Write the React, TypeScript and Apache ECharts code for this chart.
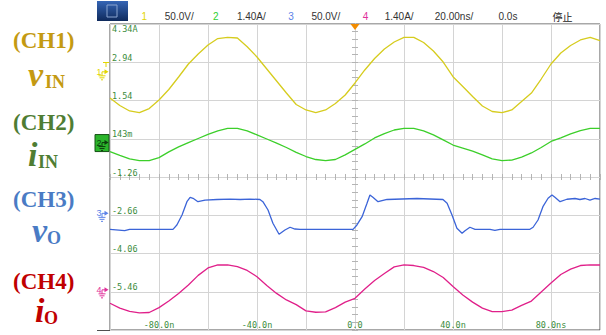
import React, { useEffect, useRef } from "react";
import * as echarts from "echarts";

// Sample times (ns) for the sinusoidal channels
const TIME_NS = [
  -100, -96, -92, -88, -84, -80, -76, -72, -68, -64, -60, -56, -52, -48, -44, -40, -36,
  -32, -28, -24, -20, -16, -12, -8, -4, 0, 4, 8, 12, 16, 20, 24, 28, 32, 36, 40, 44, 48,
  52, 56, 60, 64, 68, 72, 76, 80, 84, 88, 92, 96, 100,
];

// CH1 v_IN (V)
const CH1_V = [
  -34.2, -44.0, -51.2, -53.3, -48.0, -36.9, -23.1, -6.8, 10.2, 23.3, 35.0, 43.5, 45.1,
  44.2, 32.8, 19.4, 3.7, -12.0, -27.7, -42.7, -49.9, -53.3, -49.9, -41.4, -30.3, -14.6,
  2.4, 17.4, 29.8, 39.0, 45.1, 45.1, 38.3, 27.2, 12.8, -6.4, -19.2, -32.3, -44.7, -51.9,
  -53.3, -49.9, -38.8, -27.7, -9.4, 10.2, 24.6, 34.4, 41.6, 45.1, 40.7,
];

// CH2 i_IN (A)
const CH2_A = [
  -0.33, -0.47, -0.6, -0.66, -0.66, -0.55, -0.34, -0.16, 0.0, 0.15, 0.3, 0.43, 0.52, 0.52,
  0.43, 0.28, 0.13, -0.02, -0.18, -0.36, -0.51, -0.62, -0.66, -0.62, -0.45, -0.25, -0.05,
  0.17, 0.33, 0.46, 0.52, 0.52, 0.43, 0.28, 0.1, -0.09, -0.2, -0.31, -0.45, -0.6, -0.66,
  -0.64, -0.53, -0.38, -0.18, 0.04, 0.17, 0.32, 0.44, 0.52, 0.52,
];

// CH3 v_O (V), sampled more densely around the edges
const CH3_TIME_NS = [
  -100, -94, -92, -74.3, -72.7, -70.6, -68.6, -67.3, -66.1, -64.1, -61.2, -56.3, -51,
  -46.9, -42.9, -38.8, -37.6, -35.5, -33.5, -31, -28.6, -26.5, -24.5, -22.4, -0.8, 0.8,
  2.9, 4.9, 6.1, 7.3, 9.4, 13.1, 25.3, 35.9, 37.6, 39.6, 41.6, 43.7, 44.9, 46.9, 49,
  55.1, 57.1, 59.2, 71.4, 72.7, 74.7, 76.7, 78.8, 80.4, 81.6, 83.7, 86.5, 89.8, 91.8,
  93.9, 95.9, 98, 100,
];
const CH3_V = [
  -20.9, -22.7, -20.9, -20.9, -15.2, -2.2, 15.2, 21.0, 19.7, 15.2, 17.4, 18.1, 18.7,
  18.1, 18.7, 18.1, 15.2, 4.4, -13.0, -27.4, -21.8, -18.2, -20.5, -20.9, -20.9, -15.2,
  -4.4, 13.1, 24.0, 21.0, 15.2, 18.1, 19.4, 18.1, 13.1, -2.2, -19.6, -26.1, -22.7, -18.2,
  -20.9, -20.9, -22.4, -20.9, -20.9, -18.2, -8.7, 8.7, 19.7, 24.0, 21.0, 15.2, 18.4,
  19.4, 18.1, 19.4, 17.4, 19.4, 18.7,
];

// CH4 i_O (A)
const CH4_A = [
  -0.49, -0.67, -0.79, -0.84, -0.83, -0.65, -0.41, -0.13, 0.18, 0.53, 0.8, 0.91, 0.91,
  0.85, 0.71, 0.48, 0.16, -0.13, -0.37, -0.54, -0.77, -0.82, -0.81, -0.65, -0.45, -0.31,
  0.03, 0.34, 0.6, 0.84, 0.91, 0.89, 0.82, 0.67, 0.45, 0.12, -0.19, -0.45, -0.67, -0.8,
  -0.8, -0.74, -0.57, -0.41, -0.08, 0.25, 0.56, 0.76, 0.89, 0.91, 0.91,
];

// Vertical settings per channel: units per division and ground level (divisions from centre)
const CH_SCALE = [50, 1.4, 50, 1.4];
const CH_GROUND_DIV = [2.75, 0.9, -0.95, -2.95];

// Graticule readouts (CH2 scale), from the top line downward
const Y_TICK_LABELS = ["4.34A", "2.94", "1.54", "143m", "-1.26", "-2.66", "-4.06", "-5.46", ""];
const X_TICKS = [-80, -40, 0, 40, 80];
const X_TICK_LABELS = ["-80.0n", "-40.0n", "0.0", "40.0n", "80.0ns"];

const TRACE_COLORS = ["#d6cc1e", "#3ccf2a", "#3b64d8", "#e0208a"];
const MARK_COLORS = ["#e2d600", "#2bb52b", "#5b82e8", "#e0309a"];
const LEGEND_COLORS = ["#c49a12", "#4f7d33", "#4a7bc4", "#c00000"];

const GRID = { left: 110, top: 24, width: 490, height: 306 };
const DIV_PX = GRID.height / 8;

const toDiv = (v: number, ch: number) => v / CH_SCALE[ch] + CH_GROUND_DIV[ch];

const MONO = '"DejaVu Sans Mono", monospace';
const SANS = '"Liberation Sans", Arial, sans-serif';
const SERIF = '"Liberation Serif", "Times New Roman", serif';

function groundMarker(ch: number, label: string) {
  const y = GRID.top + (4 - CH_GROUND_DIV[ch]) * DIV_PX;
  const boxed = ch === 1;
  const c = boxed ? "#0d3d0d" : MARK_COLORS[ch];
  const children: any[] = [];
  if (boxed) {
    children.push({
      type: "rect",
      shape: { x: 95, y: y - 8, width: 14, height: 17 },
      style: { fill: MARK_COLORS[ch], stroke: "#145214", lineWidth: 1 },
    });
  }
  children.push(
    {
      type: "text",
      x: 96.5,
      y: y,
      style: { text: label, fill: c, font: `9px ${SANS}`, verticalAlign: "middle" },
    },
    { type: "line", shape: { x1: 102, y1: y, x2: 105, y2: y }, style: { stroke: c, lineWidth: 1 } },
    { type: "polygon", shape: { points: [[104.5, y - 2.5], [108.5, y], [104.5, y + 2.5]] }, style: { fill: c } },
    { type: "line", shape: { x1: 102, y1: y, x2: 102, y2: y + 4 }, style: { stroke: c, lineWidth: 1 } },
    { type: "line", shape: { x1: 98.5, y1: y + 4, x2: 105.5, y2: y + 4 }, style: { stroke: c, lineWidth: 1 } },
    { type: "line", shape: { x1: 99.5, y1: y + 6, x2: 104.5, y2: y + 6 }, style: { stroke: c, lineWidth: 1 } },
    { type: "line", shape: { x1: 101, y1: y + 8, x2: 103, y2: y + 8 }, style: { stroke: c, lineWidth: 1 } }
  );
  return { type: "group", children };
}

function barText(x: number, text: string, fill = "#333") {
  return {
    type: "text",
    x,
    y: 16,
    style: {
      text,
      fill,
      font: `10px ${text === "停止" ? '"Noto Sans CJK SC", sans-serif' : SANS}`,
      verticalAlign: "middle",
    },
  };
}

function legendBlock(ch: number, head: string, letter: string, sub: string, cy: number, base: number, lx: number, sx: number) {
  const color = LEGEND_COLORS[ch];
  return {
    type: "group",
    children: [
      {
        type: "text",
        x: 13,
        y: cy,
        style: { text: head, fill: color, font: `bold 23px ${SERIF}`, verticalAlign: "middle" },
      },
      {
        type: "text",
        x: lx,
        y: base - 0.3375 * 34,
        style: { text: letter, fill: color, font: `italic bold 34px ${SERIF}`, verticalAlign: "middle" },
      },
      {
        type: "text",
        x: sx,
        y: base + 2 - 0.3375 * 18,
        style: { text: sub, fill: color, font: `bold 18px ${SERIF}`, verticalAlign: "middle" },
      },
    ],
  };
}

function buildOption() {
  const ch1 = TIME_NS.map((t, i) => [t, toDiv(CH1_V[i], 0)]);
  const ch2 = TIME_NS.map((t, i) => [t, toDiv(CH2_A[i], 1)]);
  const ch3 = CH3_TIME_NS.map((t, i) => [t, toDiv(CH3_V[i], 2)]);
  const ch4 = TIME_NS.map((t, i) => [t, toDiv(CH4_A[i], 3)]);

  const centreTicks = {
    show: true,
    inside: true,
    length: 3,
    lineStyle: { color: "#b4b4b4", width: 1 },
  };
  const centreMinor = { show: true, splitNumber: 5, length: 3, lineStyle: { color: "#b4b4b4", width: 1 } };

  const centreX = (position: "top" | "bottom") => ({
    type: "value",
    min: -100,
    max: 100,
    interval: 20,
    position,
    axisLine: { show: true, onZero: true, lineStyle: { color: "#d4d4d4" } },
    axisTick: centreTicks,
    minorTick: centreMinor,
    axisLabel: { show: false },
    splitLine: { show: false },
  });
  const centreY = (position: "left" | "right") => ({
    type: "value",
    min: -4,
    max: 4,
    interval: 1,
    position,
    axisLine: { show: true, onZero: true, lineStyle: { color: "#d4d4d4" } },
    axisTick: centreTicks,
    minorTick: centreMinor,
    axisLabel: { show: false },
    splitLine: { show: false },
  });

  const line = (data: number[][], color: string, extra: any = {}) => ({
    type: "line",
    data,
    symbol: "none",
    silent: true,
    clip: true,
    lineStyle: { color, width: 1.3 },
    emphasis: { disabled: true },
    ...extra,
  });

  return {
    animation: false,
    backgroundColor: "#ffffff",
    grid: {
      ...GRID,
      show: true,
      backgroundColor: "#ffffff",
      borderColor: "#505050",
      borderWidth: 1,
    },
    xAxis: [
      {
        type: "value",
        min: -100,
        max: 100,
        interval: 20,
        position: "bottom",
        axisLine: { show: false, onZero: false },
        axisTick: { show: false },
        splitLine: { show: true, lineStyle: { color: "#d4d4d4", width: 1 } },
        axisLabel: {
          inside: true,
          margin: 1,
          color: "#3c8c3c",
          fontFamily: MONO,
          fontSize: 8.5,
          showMinLabel: false,
          showMaxLabel: false,
          formatter: (v: number) => {
            const k = X_TICKS.indexOf(Math.round(v));
            return k >= 0 ? X_TICK_LABELS[k] : "";
          },
        },
      },
      centreX("bottom"),
      centreX("top"),
    ],
    yAxis: [
      {
        type: "value",
        min: -4,
        max: 4,
        interval: 1,
        position: "left",
        axisLine: { show: false, onZero: false },
        axisTick: { show: false },
        splitLine: { show: true, lineStyle: { color: "#d4d4d4", width: 1 } },
        axisLabel: {
          inside: true,
          margin: 2,
          align: "left",
          verticalAlign: "bottom",
          color: "#3c8c3c",
          fontFamily: MONO,
          fontSize: 8.5,
          formatter: (v: number) => {
            const r = Math.round(v);
            return r < 4 && r > -4 ? Y_TICK_LABELS[4 - r] : "";
          },
        },
      },
      {
        type: "value",
        min: -4,
        max: 4,
        interval: 1,
        position: "left",
        axisLine: { show: false, onZero: false },
        axisTick: { show: false },
        splitLine: { show: false },
        axisLabel: {
          inside: true,
          margin: 2,
          align: "left",
          verticalAlign: "top",
          color: "#3c8c3c",
          fontFamily: MONO,
          fontSize: 8.5,
          formatter: (v: number) => (Math.round(v) === 4 ? Y_TICK_LABELS[0] : ""),
        },
      },
      centreY("left"),
      centreY("right"),
    ],
    series: [
      line(ch4, TRACE_COLORS[3]),
      line(ch3, TRACE_COLORS[2]),
      line(ch2, TRACE_COLORS[1]),
      line(ch1, TRACE_COLORS[0], {
        markPoint: {
          symbol: "triangle",
          symbolRotate: 180,
          symbolSize: [9, 6],
          symbolOffset: [0, 3],
          silent: true,
          itemStyle: { color: "#f28c00" },
          label: { show: false },
          data: [{ coord: [0, 4] }],
        },
      }),
    ],
    graphic: [
      // run/stop control button
      {
        type: "rect",
        shape: { x: 97, y: 1, width: 31, height: 20 },
        style: {
          fill: new echarts.graphic.LinearGradient(0, 0, 0, 1, [
            { offset: 0, color: "#3565b5" },
            { offset: 1, color: "#0f2a5c" },
          ]),
        },
      },
      {
        type: "rect",
        shape: { x: 107, y: 5, width: 10, height: 12 },
        style: { fill: "none", stroke: "#8aa4d0", lineWidth: 1 },
      },
      barText(141.6, "1", MARK_COLORS[0]),
      barText(164.8, "50.0V/"),
      barText(213, "2", "#30d030"),
      barText(236.9, "1.40A/"),
      barText(288.2, "3", MARK_COLORS[2]),
      barText(311.4, "50.0V/"),
      barText(362.7, "4", MARK_COLORS[3]),
      barText(384.7, "1.40A/"),
      barText(434.8, "20.00ns/"),
      barText(498.5, "0.0s"),
      barText(552.5, "停止", "#222"),
      // frame extension below the channel markers
      {
        type: "line",
        shape: { x1: 97, y1: GRID.top + GRID.height + 0.5, x2: GRID.left, y2: GRID.top + GRID.height + 0.5 },
        style: { stroke: "#505050", lineWidth: 1 },
      },
      // trigger level marker
      {
        type: "group",
        children: [
          { type: "line", shape: { x1: 103, y1: 62.5, x2: 109, y2: 62.5 }, style: { stroke: MARK_COLORS[0], lineWidth: 1 } },
          { type: "line", shape: { x1: 106, y1: 62.5, x2: 106, y2: 67 }, style: { stroke: MARK_COLORS[0], lineWidth: 1 } },
        ],
      },
      groundMarker(0, "1"),
      groundMarker(1, "2"),
      groundMarker(2, "3"),
      groundMarker(3, "4"),
      legendBlock(0, "(CH1)", "v", "IN", 40, 86, 28, 45),
      legendBlock(1, "(CH2)", "i", "IN", 122, 166, 28, 38),
      legendBlock(2, "(CH3)", "v", "O", 199, 242, 32, 47),
      legendBlock(3, "(CH4)", "i", "O", 281, 322, 35, 44),
    ],
  };
}

export default function App() {
  const ref = useRef<HTMLDivElement>(null);
  useEffect(() => {
    document.body.style.margin = "0";
    const chart = echarts.init(ref.current as HTMLDivElement, null, { renderer: "svg" });
    chart.setOption(buildOption() as any);
    return () => chart.dispose();
  }, []);
  return <div ref={ref} style={{ width: 606, height: 335 }} />;
}
